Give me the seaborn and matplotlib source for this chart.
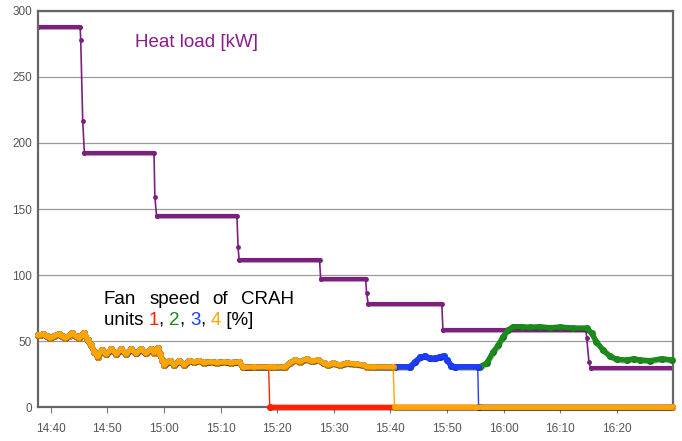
import matplotlib
matplotlib.use("Agg")
import matplotlib.pyplot as plt
import matplotlib.patheffects as pe
import numpy as np
import seaborn as sns

# ---------------- data (time = minutes after 14:40) ----------------
x_ticks = [0, 10, 20, 30, 40, 50, 60, 70, 80, 90, 100]
x_tick_labels = ["14:40", "14:50", "15:00", "15:10", "15:20", "15:30",
                 "15:40", "15:50", "16:00", "16:10", "16:20"]
y_ticks = [0, 50, 100, 150, 200, 250, 300]

heat_t = [-2.3, 5.2, 5.3, 5.65, 5.95, 18.25, 18.4, 18.7, 32.9, 33.1, 33.3,
          47.5, 47.7, 55.65, 55.8, 56.1, 69.1, 69.3, 94.6, 94.7, 95.1, 95.4, 109.9]
heat_kw = [287.4, 287.4, 278.0, 216.6, 192.1, 192.1, 159.3, 144.7, 144.7, 121.0,
           111.2, 111.2, 97.0, 97.0, 86.7, 77.9, 77.9, 58.5, 58.5, 52.2, 34.5, 29.5, 29.5]

# all four CRAH units overlap up to ~15:18
fan_shared_t = [-2.3, -1.9, -1.3, -0.7, -0.1, 0.6, 1.4, 2.0, 2.6, 3.2, 3.8, 4.4, 5.0,
                5.5, 5.9, 6.5, 7.1, 7.7, 8.3, 9.0, 9.8, 10.7, 11.6, 12.4, 13.3, 14.2,
                15.1, 15.9, 16.8, 17.7, 18.3, 18.9, 19.3, 19.7, 20.1, 21.0, 21.8, 22.7,
                23.6, 24.5, 25.4, 26.2, 27.1, 28.3, 29.4, 30.6, 31.8, 33.3, 34.0, 36.0, 38.5]
fan_shared_v = [54.5, 54.7, 55.4, 53.8, 52.4, 54.0, 55.4, 53.8, 52.4, 54.2, 55.9, 54.0, 52.4,
                54.5, 56.4, 50.9, 47.1, 42.1, 38.3, 43.3, 40.1, 43.9, 40.3, 43.9, 40.3, 43.9,
                40.8, 43.9, 40.8, 43.9, 41.4, 44.6, 40.0, 35.8, 32.0, 35.3, 32.0, 35.3,
                32.0, 35.3, 34.3, 35.3, 33.8, 34.5, 33.8, 34.5, 33.8, 34.3, 30.3, 30.5, 30.5]
# units 2, 3, 4 until 15:40
fan_mid_t = [39.5, 41.4, 42.3, 43.2, 44.0, 45.2, 46.1, 47.3, 48.2, 49.0, 49.9, 51.1,
             52.3, 53.8, 55.2, 55.8, 57.0, 60.5]
fan_mid_v = [30.5, 30.5, 33.8, 35.8, 34.5, 36.5, 34.8, 35.8, 33.5, 32.0, 33.3, 32.0,
             33.3, 32.8, 32.0, 30.8, 30.5, 30.5]
# units 2, 3 until 15:55
fan_blue_t = [60.8, 63.5, 64.4, 65.3, 66.1, 67.0, 67.9, 68.8, 69.5, 70.0, 70.8, 71.4, 75.45]
fan_blue_v = [30.7, 30.7, 34.5, 37.8, 38.8, 37.0, 37.0, 38.3, 38.8, 35.8, 31.5, 30.7, 30.7]
# unit 2 alone
fan_green_t = [75.8, 77.0, 78.2, 79.1, 79.9, 80.8, 81.7, 83.2, 84.6, 86.4, 88.2, 90.0, 92.3,
               94.7, 95.6, 96.4, 97.6, 98.8, 100.0, 101.8, 103.0, 104.1, 105.9, 108.0, 109.7]
fan_green_v = [30.7, 33.3, 42.1, 47.1, 53.4, 58.5, 61.0, 61.0, 60.6, 61.0, 60.2, 60.8, 60.0,
               60.0, 56.0, 49.6, 43.3, 38.8, 36.3, 35.8, 36.8, 35.8, 35.3, 36.8, 35.8]
# switched-off periods (0 %)
red_off_t = [38.7, 109.7]
orange_off_t = [60.75, 109.7]
blue_off_t = [75.6, 109.7]

# ---------------- assemble series ----------------
red_t = fan_shared_t + red_off_t
red_v = fan_shared_v + [0.0] * len(red_off_t)
orange_t = fan_shared_t + fan_mid_t + orange_off_t
orange_v = fan_shared_v + fan_mid_v + [0.0] * len(orange_off_t)
blue_t = fan_shared_t + fan_mid_t + fan_blue_t + blue_off_t
blue_v = fan_shared_v + fan_mid_v + fan_blue_v + [0.0] * len(blue_off_t)
green_t = fan_shared_t + fan_mid_t + fan_blue_t + fan_green_t
green_v = fan_shared_v + fan_mid_v + fan_blue_v + fan_green_v

PURPLE = "#7E1F80"
RED = "#FF2200"
GREEN = "#1A8A1A"
BLUE = "#1E3CFF"
ORANGE = "#FFA500"

sns.set_theme(style="white")
plt.rcParams["font.family"] = ["Liberation Sans", "DejaVu Sans"]

fig = plt.figure(figsize=(6.82, 4.41), dpi=100)
ax = fig.add_axes([0.0553, 0.0764, 0.9311, 0.8993])

shadow = [pe.SimpleLineShadow(offset=(0.3, -0.8), shadow_color="#222222", alpha=0.35),
          pe.Normal()]


def draw(t, v, color, thick_lw, thin_lw, ms, z, clip=True):
    sns.lineplot(x=t, y=v, color=color, lw=thin_lw, marker="o", markersize=ms,
                 markeredgewidth=0, estimator=None, sort=False, ax=ax, zorder=z,
                 clip_on=clip)
    xs, ys = [], []
    for i in range(len(t) - 1):
        slope = abs(v[i + 1] - v[i]) / (t[i + 1] - t[i])
        if slope < 15:
            if not xs or np.isnan(xs[-1]) or xs[-1] != t[i]:
                if xs:
                    xs.append(np.nan)
                    ys.append(np.nan)
                xs.append(t[i])
                ys.append(v[i])
            xs.append(t[i + 1])
            ys.append(v[i + 1])
    ax.plot(xs, ys, color=color, lw=thick_lw, solid_capstyle="round",
            solid_joinstyle="round", zorder=z, path_effects=shadow, clip_on=clip)


draw(heat_t, heat_kw, PURPLE, 3.0, 1.2, 3.5, 2)
draw(green_t, green_v, GREEN, 3.8, 1.0, 5.0, 3, clip=False)
draw(red_t, red_v, RED, 3.8, 1.0, 5.0, 4, clip=False)
draw(blue_t, blue_v, BLUE, 3.8, 1.0, 5.0, 5, clip=False)
draw(orange_t, orange_v, ORANGE, 3.8, 1.0, 5.0, 6, clip=False)

ax.set_xlim(-2.3, 109.9)
ax.set_ylim(0, 300)
ax.set_yticks(y_ticks)
ax.set_xticks(x_ticks)
ax.set_xticklabels(x_tick_labels)
ax.set_xlabel("")
ax.set_ylabel("")
ax.yaxis.grid(True, color="#9a9a9a", lw=0.9)
ax.xaxis.grid(False)
ax.set_axisbelow(True)
for s in ax.spines.values():
    s.set_color("#666666")
    s.set_linewidth(1.6)
    s.set_visible(True)
ax.tick_params(axis="y", length=0, pad=4, labelsize=8.5, labelcolor="#555555")
ax.tick_params(axis="x", bottom=True, length=4, width=0.8, color="#777777",
               direction="out", pad=7.5, labelsize=8.5, labelcolor="#555555")

# annotations
ax.text(14.9, 272.8, "Heat load [kW]", color="#8B1A8B", fontsize=13.5, va="baseline")
for word, xt in zip(["Fan", "speed", "of", "CRAH"], [9.4, 17.5, 28.6, 33.7]):
    ax.text(xt, 78.1, word, color="black", fontsize=13.5, va="baseline")

pieces = [("units ", "black"), ("1", RED), (", ", "black"), ("2", GREEN), (", ", "black"),
          ("3", BLUE), (", ", "black"), ("4", ORANGE), (" [%]", "black")]
prev = ax.text(9.4, 62.3, pieces[0][0], color=pieces[0][1], fontsize=13.5, va="baseline")
for txt, col in pieces[1:]:
    prev = ax.annotate(txt, xy=(1, 0), xycoords=prev, va="bottom", ha="left",
                       color=col, fontsize=13.5)

fig.savefig("out.png", dpi=100)
